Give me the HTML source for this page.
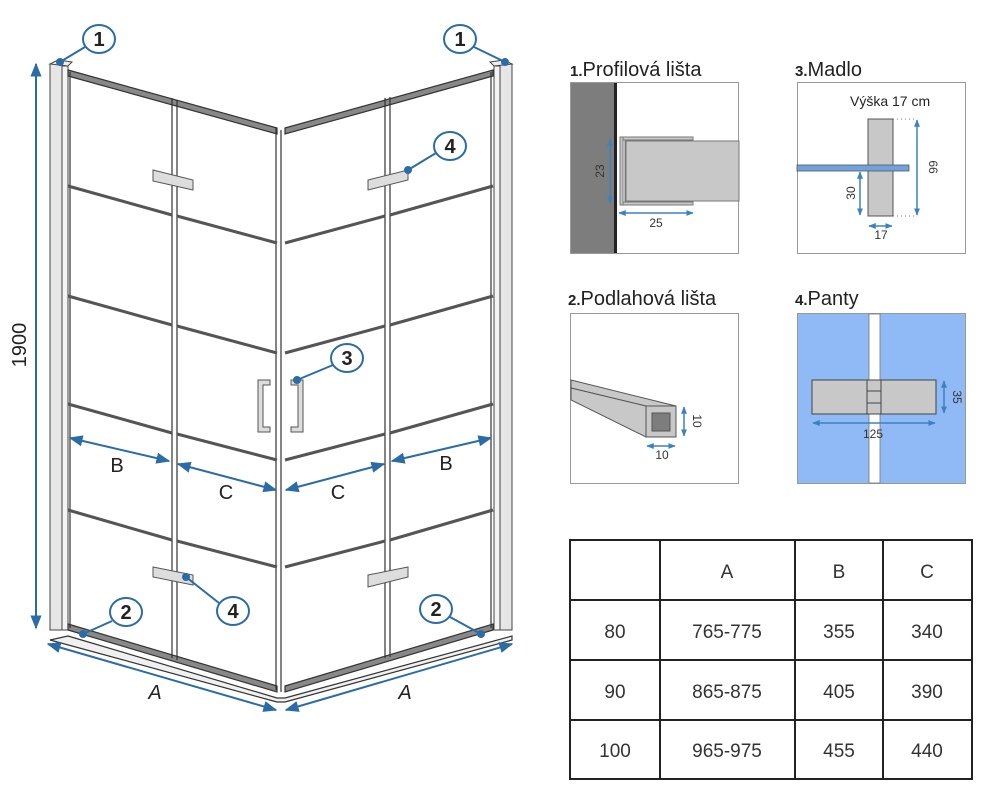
<!DOCTYPE html>
<html><head><meta charset="utf-8"><style>html,body{margin:0;padding:0;background:#fff}svg{display:block}</style></head>
<body>
<svg width="995" height="800" viewBox="0 0 995 800" xmlns="http://www.w3.org/2000/svg" font-family="Liberation Sans, sans-serif">
<defs>
<marker id="ar" viewBox="0 0 10 10" refX="9" refY="5" markerWidth="7" markerHeight="7" orient="auto-start-reverse"><path d="M0,1 L10,5 L0,9 z" fill="#2b6ca8"/></marker>
<marker id="as" viewBox="0 0 10 10" refX="9" refY="5" markerWidth="5" markerHeight="5" orient="auto-start-reverse"><path d="M0,1 L10,5 L0,9 z" fill="#3b82c0"/></marker>
</defs>
<!-- profiles -->
<g stroke="#444" stroke-width="1">
<rect x="50" y="64" width="12" height="566" fill="#e6e6e6"/>
<rect x="62" y="66" width="6" height="564" fill="#f4f4f4"/>
<path d="M50,64 L58,60 L72,62 L68,66 Z" fill="#eee"/>
<rect x="500" y="64" width="12" height="566" fill="#e6e6e6"/>
<rect x="494" y="66" width="6" height="564" fill="#f4f4f4"/>
<path d="M512,64 L504,60 L490,62 L494,66 Z" fill="#eee"/>
</g>
<!-- left panel -->
<g stroke="#333" stroke-width="1.2" fill="none">
<polygon points="68,70 277,128 277,134 68,76" fill="#888"/>
<polygon points="68,624 277,686 277,692 68,630" fill="#888"/>
<line x1="70" y1="72" x2="70" y2="628"/>
<line x1="172" y1="98" x2="172" y2="658"/><line x1="177" y1="100" x2="177" y2="660"/>
<line x1="276" y1="128" x2="276" y2="690"/><line x1="281" y1="130" x2="281" y2="692"/>
<polygon points="285,128 493,70 493,76 285,134" fill="#888"/>
<polygon points="285,686 493,624 493,630 285,692" fill="#888"/>
<line x1="491" y1="72" x2="491" y2="628"/>
<line x1="385" y1="98" x2="385" y2="658"/><line x1="390" y1="97" x2="390" y2="657"/>
<polygon points="68,636 277,698 285,698 512,636 512,640 285,702 277,702 50,640" fill="#f0f0f0"/>
</g>
<g stroke="#555" stroke-width="3">
<line x1="68" y1="186" x2="172" y2="215"/><line x1="177" y1="216" x2="277" y2="243"/>
<line x1="68" y1="296" x2="172" y2="325"/><line x1="177" y1="326" x2="277" y2="353"/>
<line x1="68" y1="404" x2="172" y2="433"/><line x1="177" y1="434" x2="277" y2="460"/>
<line x1="68" y1="510" x2="172" y2="540"/><line x1="177" y1="541" x2="277" y2="567"/>
<line x1="285" y1="243" x2="385" y2="216"/><line x1="390" y1="215" x2="493" y2="186"/>
<line x1="285" y1="353" x2="385" y2="326"/><line x1="390" y1="325" x2="493" y2="296"/>
<line x1="285" y1="460" x2="385" y2="434"/><line x1="390" y1="433" x2="493" y2="404"/>
<line x1="285" y1="567" x2="385" y2="541"/><line x1="390" y1="540" x2="493" y2="510"/>
</g>
<!-- hinges -->
<g stroke="#555" stroke-width="1" fill="#ddd">
<polygon points="153,170 193,180 193,190 153,181"/>
<polygon points="368,180 408,170 408,180 368,190"/>
<polygon points="153,567 193,575 193,585 153,577"/>
<polygon points="368,575 408,567 408,577 368,587"/>
<!-- handles -->
<path d="M258,380 h12 v5 h-7 v42 h7 v5 h-12 z"/>
<path d="M303,380 h-12 v5 h7 v42 h-7 v5 h12 z"/>
</g>
<!-- dimension lines -->
<g stroke="#2b6ca8" stroke-width="2" fill="none">
<line x1="36" y1="64" x2="36" y2="628" marker-start="url(#ar)" marker-end="url(#ar)"/>
<line x1="70" y1="438" x2="169" y2="461" marker-start="url(#ar)" marker-end="url(#ar)"/>
<line x1="178" y1="464" x2="276" y2="490" marker-start="url(#ar)" marker-end="url(#ar)"/>
<line x1="286" y1="490" x2="384" y2="464" marker-start="url(#ar)" marker-end="url(#ar)"/>
<line x1="392" y1="461" x2="491" y2="438" marker-start="url(#ar)" marker-end="url(#ar)"/>
<line x1="48" y1="644" x2="276" y2="710" marker-start="url(#ar)" marker-end="url(#ar)"/>
<line x1="286" y1="710" x2="512" y2="644" marker-start="url(#ar)" marker-end="url(#ar)"/>
</g>
<g fill="#222" font-size="20" text-anchor="middle">
<text x="26" y="345" transform="rotate(-90 26 345)">1900</text>
<text x="117" y="472">B</text><text x="226" y="499">C</text>
<text x="338" y="499">C</text><text x="446" y="470">B</text>
<text x="155" y="699" font-style="italic">A</text><text x="405" y="699" font-style="italic">A</text>
</g>
<!-- callouts -->
<g stroke="#2b6ca8" stroke-width="2">
<line x1="60" y1="62" x2="85" y2="47"/><line x1="505" y1="62" x2="474" y2="47"/>
<line x1="408" y1="170" x2="436" y2="153"/><line x1="297" y1="380" x2="333" y2="365"/>
<line x1="186" y1="577" x2="219" y2="603"/><line x1="83" y1="634" x2="112" y2="621"/>
<line x1="481" y1="634" x2="450" y2="617"/>
</g>
<g fill="#2b6ca8">
<circle cx="60" cy="62" r="4"/><circle cx="505" cy="62" r="4"/><circle cx="408" cy="170" r="4"/>
<circle cx="297" cy="380" r="4"/><circle cx="186" cy="577" r="4"/><circle cx="83" cy="634" r="4"/><circle cx="481" cy="634" r="4"/>
</g>
<g fill="#fff" stroke="#2b6ca8" stroke-width="2">
<ellipse cx="99" cy="39" rx="16" ry="14"/><ellipse cx="460" cy="39" rx="16" ry="14"/>
<ellipse cx="450" cy="146" rx="16" ry="14"/><ellipse cx="347" cy="358" rx="16" ry="14"/>
<ellipse cx="233" cy="611" rx="16" ry="14"/><ellipse cx="126" cy="612" rx="16" ry="14"/>
<ellipse cx="436" cy="609" rx="16" ry="14"/>
</g>
<g fill="#222" font-size="20" font-weight="bold" text-anchor="middle">
<text x="99" y="46">1</text><text x="460" y="46">1</text><text x="450" y="153">4</text>
<text x="347" y="365">3</text><text x="233" y="618">4</text><text x="126" y="619">2</text><text x="436" y="616">2</text>
</g>
<!-- panel 1 -->
<text x="570" y="76" font-size="20" fill="#222"><tspan font-size="15" font-weight="bold">1.</tspan>Profilová lišta</text>
<rect x="570.5" y="82.5" width="168" height="171" fill="#fff" stroke="#999"/>
<rect x="571" y="83" width="44" height="170" fill="#7d7d7d"/>
<rect x="614" y="83" width="3" height="170" fill="#222"/>
<g stroke="#777" stroke-width="1" fill="#c8c8c8">
<rect x="620" y="137" width="73" height="3"/><rect x="620" y="202" width="73" height="3"/>
<rect x="620" y="137" width="3" height="68"/><rect x="625" y="140" width="3" height="62"/>
<rect x="626" y="141" width="113" height="60"/>
</g>
<g stroke="#3b82c0" stroke-width="1.5">
<line x1="610" y1="139" x2="610" y2="203" marker-start="url(#as)" marker-end="url(#as)"/>
<line x1="619" y1="213" x2="693" y2="213" marker-start="url(#as)" marker-end="url(#as)"/>
</g>
<text x="604" y="171" font-size="12" fill="#333" text-anchor="middle" transform="rotate(-90 604 171)">23</text>
<text x="656" y="227" font-size="12" fill="#333" text-anchor="middle">25</text>
<!-- panel 3 -->
<text x="795" y="76" font-size="20" fill="#222"><tspan font-size="15" font-weight="bold">3.</tspan>Madlo</text>
<rect x="797.5" y="82.5" width="168" height="171" fill="#fff" stroke="#999"/>
<text x="850" y="106" font-size="14" fill="#222">Výška 17 cm</text>
<rect x="868" y="119" width="25" height="97" fill="#c8c8c8" stroke="#555"/>
<rect x="797" y="165" width="112" height="6" fill="#6fa3e0" stroke="#555" stroke-width="0.8"/>
<g stroke="#777" stroke-dasharray="1,3"><line x1="893" y1="119" x2="917" y2="119"/><line x1="893" y1="216" x2="917" y2="216"/></g>
<g stroke="#3b82c0" stroke-width="1.5">
<line x1="917" y1="120" x2="917" y2="215" marker-start="url(#as)" marker-end="url(#as)"/>
<line x1="860" y1="172" x2="860" y2="215" marker-start="url(#as)" marker-end="url(#as)"/>
<line x1="869" y1="226" x2="892" y2="226" marker-start="url(#as)" marker-end="url(#as)"/>
</g>
<text x="929" y="167" font-size="12" fill="#333" text-anchor="middle" transform="rotate(90 929 167)">66</text>
<text x="855" y="193" font-size="12" fill="#333" text-anchor="middle" transform="rotate(-90 855 193)">30</text>
<text x="881" y="239" font-size="12" fill="#333" text-anchor="middle">17</text>
<!-- panel 2 -->
<text x="568" y="305" font-size="20" fill="#222"><tspan font-size="15" font-weight="bold">2.</tspan>Podlahová lišta</text>
<rect x="570.5" y="313.5" width="168" height="170" fill="#fff" stroke="#999"/>
<g stroke="#555" stroke-width="1" fill="#c8c8c8">
<polygon points="571,380 676,406 646,406 571,388"/>
<polygon points="571,388 646,406 646,437 571,400"/>
<rect x="646" y="406" width="30" height="31"/>
<rect x="652" y="413" width="18" height="18" fill="#7d7d7d"/>
</g>
<g stroke="#3b82c0" stroke-width="1.5">
<line x1="684" y1="407" x2="684" y2="436" marker-start="url(#as)" marker-end="url(#as)"/>
<line x1="647" y1="446" x2="675" y2="446" marker-start="url(#as)" marker-end="url(#as)"/>
</g>
<text x="693" y="421" font-size="12" fill="#333" text-anchor="middle" transform="rotate(90 693 421)">10</text>
<text x="662" y="459" font-size="12" fill="#333" text-anchor="middle">10</text>
<!-- panel 4 -->
<text x="795" y="305" font-size="20" fill="#222"><tspan font-size="15" font-weight="bold">4.</tspan>Panty</text>
<rect x="797.5" y="313.5" width="168" height="170" fill="#8fbaf5" stroke="#999"/>
<rect x="869" y="314" width="11" height="169" fill="#fff" stroke="#777" stroke-width="0.8"/>
<rect x="812" y="380" width="124" height="34" fill="#c8c8c8" stroke="#444"/>
<rect x="867" y="380" width="14" height="34" fill="#c8c8c8" stroke="#444"/>
<line x1="867" y1="391" x2="881" y2="391" stroke="#444"/><line x1="867" y1="403" x2="881" y2="403" stroke="#444"/>
<g stroke="#3b82c0" stroke-width="1.5">
<line x1="944" y1="381" x2="944" y2="413" marker-start="url(#as)" marker-end="url(#as)"/>
<line x1="813" y1="423" x2="935" y2="423" marker-start="url(#as)" marker-end="url(#as)"/>
</g>
<text x="953" y="397" font-size="12" fill="#333" text-anchor="middle" transform="rotate(90 953 397)">35</text>
<text x="873" y="438" font-size="12" fill="#333" text-anchor="middle">125</text>
<!-- table -->
<g stroke="#222" stroke-width="2" fill="none">
<rect x="570" y="540" width="402" height="239"/>
<line x1="660" y1="540" x2="660" y2="779"/><line x1="795" y1="540" x2="795" y2="779"/><line x1="883" y1="540" x2="883" y2="779"/>
<line x1="570" y1="600" x2="972" y2="600"/><line x1="570" y1="660" x2="972" y2="660"/><line x1="570" y1="720" x2="972" y2="720"/>
</g>
<g font-size="19" fill="#333" text-anchor="middle">
<text x="727" y="578">A</text><text x="839" y="578">B</text><text x="927" y="578">C</text>
<text x="615" y="638">80</text><text x="727" y="638">765-775</text><text x="839" y="638">355</text><text x="927" y="638">340</text>
<text x="615" y="698">90</text><text x="727" y="698">865-875</text><text x="839" y="698">405</text><text x="927" y="698">390</text>
<text x="615" y="757">100</text><text x="727" y="757">965-975</text><text x="839" y="757">455</text><text x="927" y="757">440</text>
</g>
</svg>
</body></html>
